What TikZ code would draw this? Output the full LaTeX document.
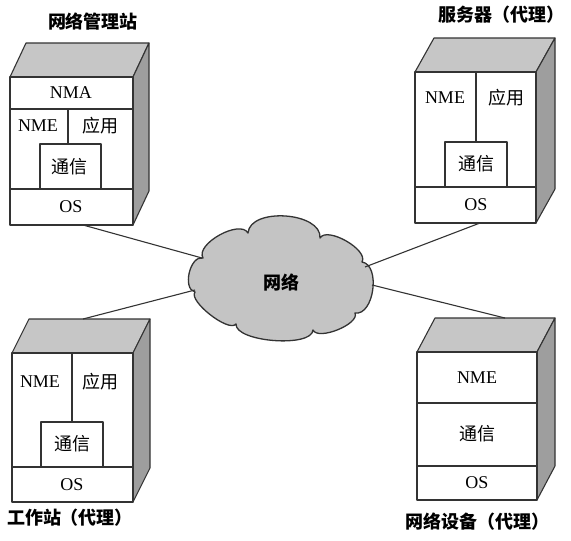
\documentclass[tikz,border=0pt]{standalone}
\usepackage{fontspec}
\setmainfont{Liberation Serif}
\newfontfamily\cjk{Noto Sans CJK SC}
\definecolor{topgray}{HTML}{C6C6C6}
\definecolor{sidegray}{HTML}{9E9E9E}
\definecolor{cloudgray}{HTML}{C4C4C4}
\definecolor{linec}{HTML}{333333}
\newcommand\mycube[5]{% x left, y top, x right, y bottom, depth dx
  \filldraw[topgray,draw=linec] (#1,#2) -- (#1+#5,#2-34) -- (#3+#5,#2-34) -- (#3,#2) -- cycle;
  \filldraw[sidegray,draw=linec] (#3,#2) -- (#3+#5,#2-34) -- (#3+#5,#4-34) -- (#3,#4) -- cycle;
  \filldraw[fill=white,draw=linec] (#1,#2) rectangle (#3,#4);
}
\tikzset{
  every path/.style={line width=1.1pt, line join=round},
  lbl/.style={inner sep=0pt, font=\fontsize{18}{18}\selectfont},
  clbl/.style={inner sep=0pt, font=\cjk\fontsize{18}{18}\selectfont},
  ttl/.style={inner sep=0pt, font=\cjk\bfseries\fontsize{18}{18}\selectfont},
  conn/.style={draw=linec, line width=1.1pt},
}
\begin{document}
\begin{tikzpicture}[x=1pt,y=-1pt]
\useasboundingbox (0,0) rectangle (571,541);

% ---------- cloud ----------
\filldraw[fill=cloudgray, draw=linec, line width=1.3pt]
  (195,292) .. controls (182,289) and (190,255) .. (203,258)
  .. controls (195,244) and (240,219) .. (248,233)
  .. controls (250,207) and (322,212) .. (320,238)
  .. controls (327,226) and (369,250) .. (362,262)
  .. controls (381,265) and (374,316) .. (355,313)
  .. controls (360,324) and (318,341) .. (313,330)
  .. controls (312,348) and (235,342) .. (236,324)
  .. controls (229,333) and (188,301) .. (195,292) -- cycle;
\node[ttl] (net) at (281,283) {网络};
\coordinate (cl1) at (202,258);
\coordinate (cl2) at (195,290);
\coordinate (cl3) at (365,267);
\coordinate (cl4) at (372,285);

% ---------- box 1: 网络管理站 ----------
\mycube{10}{77}{133}{225}{16}
\draw[linec] (10,109) -- (133,109);
\draw[linec] (68,109) -- (68,144);
\draw[linec] (40,144) rectangle (101,189);
\draw[linec] (10,189) -- (133,189);
\node[lbl] (b1nma) at (71,93) {NMA};
\node[lbl] (b1nme) at (38,126) {NME};
\node[clbl] (b1app) at (100,126) {应用};
\node[clbl] (b1com) at (70,167) {通信};
\node[lbl] (b1os) at (71,207) {OS};
\node[ttl] (t1) at (93,22) {网络管理站};
\coordinate (b1c) at (83,225);

% ---------- box 2: 服务器（代理） ----------
\mycube{415}{72}{536}{223}{19}
\draw[linec] (476,72) -- (476,142);
\draw[linec] (445,142) rectangle (507,187);
\draw[linec] (415,187) -- (536,187);
\node[lbl] (b2nme) at (445,98) {NME};
\node[clbl] (b2app) at (506,98) {应用};
\node[clbl] (b2com) at (476,164) {通信};
\node[lbl] (b2os) at (476,205) {OS};
\node[ttl] (t2) at (501,15) {服务器（代理）};
\coordinate (b2c) at (480,223);

% ---------- box 3: 工作站（代理） ----------
\mycube{12}{353}{133}{502}{17}
\draw[linec] (72,353) -- (72,422);
\draw[linec] (41,422) rectangle (103,467);
\draw[linec] (12,467) -- (133,467);
\node[lbl] (b3nme) at (40,382) {NME};
\node[clbl] (b3app) at (100,382) {应用};
\node[clbl] (b3com) at (72,444) {通信};
\node[lbl] (b3os) at (72,485) {OS};
\node[ttl] (t3) at (70,518) {工作站（代理）};
\coordinate (b3c) at (83,319);

% ---------- box 4: 网络设备（代理） ----------
\mycube{417}{352}{537}{500}{18}
\draw[linec] (417,403) -- (537,403);
\draw[linec] (417,466) -- (537,466);
\node[lbl] (b4nme) at (477,378) {NME};
\node[clbl] (b4com) at (477,434) {通信};
\node[lbl] (b4os) at (477,483) {OS};
\node[ttl] (t4) at (477,522) {网络设备（代理）};
\coordinate (b4c) at (505,318);

% ---------- connectors ----------
\draw[conn] (b1c) -- (cl1);
\draw[conn] (b3c) -- (cl2);
\draw[conn] (b2c) -- (cl3);
\draw[conn] (cl4) -- (b4c);
\end{tikzpicture}
\end{document}
